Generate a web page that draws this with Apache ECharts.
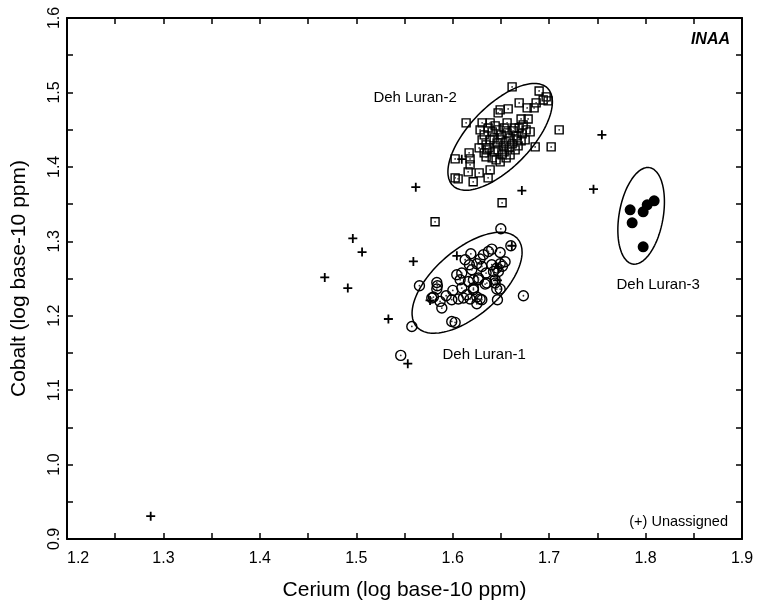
<!DOCTYPE html>
<html><head><meta charset="utf-8">
<script src="https://cdn.jsdelivr.net/npm/echarts@6/dist/echarts.min.js"></script>
<style>html,body{margin:0;padding:0;background:#fff}#c{width:757px;height:610px}</style>
</head><body><div id="c"></div>
<script>
// Cerium (x) vs Cobalt (y), log base-10 ppm
const dehLuran1 = [
[1.6499,1.3168],[1.6603,1.2940],[1.6492,1.2850],[1.6405,1.2895],[1.6370,1.2863],[1.6318,1.2819],
[1.6188,1.2832],[1.6129,1.2752],[1.6250,1.2698],[1.6302,1.2662],[1.6405,1.2685],[1.6492,1.2698],
[1.6474,1.2595],[1.6440,1.2483],[1.6457,1.2358],[1.6492,1.2358],[1.6354,1.2439],[1.6267,1.2483],
[1.6215,1.2483],[1.6163,1.2460],[1.6094,1.2573],[1.6094,1.2372],[1.6001,1.2340],[1.6059,1.2224],
[1.6111,1.2237],[1.6146,1.2282],[1.6215,1.2349],[1.6250,1.2251],[1.6284,1.2224],[1.6250,1.2161],
[1.6180,1.2224],[1.5990,1.2215],[1.5932,1.2268],[1.5869,1.2192],[1.5800,1.2251],[1.5783,1.2237],
[1.5887,1.2103],[1.5835,1.2447],[1.5841,1.2403],[1.5835,1.2358],[1.5655,1.2403],[1.5990,1.1923],
[1.6025,1.1910],[1.5576,1.1856],[1.5461,1.1467],[1.6733,1.2268],[1.6440,1.2439],[1.6464,1.2215],
[1.6198,1.2617],[1.6173,1.2685],[1.6284,1.2761],[1.6042,1.2550],[1.6346,1.2573],[1.6077,1.2483],
[1.6543,1.2725],[1.6516,1.2664],[1.6457,1.2640],[1.6423,1.2595],[1.6267,1.2506],[1.6336,1.2425],
[1.6215,1.2372],[1.6302,1.2215]
];
const dehLuran2 = [
[1.6616,1.5074],[1.6896,1.5020],[1.6969,1.4940],[1.6989,1.4886],[1.6938,1.4899],[1.6865,1.4859],
[1.6844,1.4792],[1.6772,1.4792],[1.6689,1.4859],[1.6575,1.4779],[1.6492,1.4765],[1.6471,1.4725],
[1.6139,1.4591],[1.6305,1.4591],[1.6388,1.4591],[1.6564,1.4591],[1.6709,1.4644],[1.6782,1.4644],
[1.6855,1.4268],[1.7104,1.4497],[1.7021,1.4268],[1.6025,1.4107],[1.6170,1.4188],[1.6180,1.4107],
[1.6180,1.4027],[1.6025,1.3852],[1.6056,1.3839],[1.6160,1.3933],[1.6212,1.3799],[1.6274,1.3919],
[1.6388,1.3960],[1.6367,1.3852],[1.6357,1.4228],[1.6346,1.4134],[1.6512,1.3517],[1.5817,1.3262],
[1.6284,1.4497],[1.6326,1.4430],[1.6367,1.4523],[1.6409,1.4470],[1.6440,1.4550],[1.6471,1.4497],
[1.6502,1.4430],[1.6533,1.4523],[1.6564,1.4456],[1.6595,1.4389],[1.6626,1.4483],[1.6658,1.4416],
[1.6689,1.4523],[1.6720,1.4443],[1.6751,1.4362],[1.6305,1.4362],[1.6346,1.4295],[1.6388,1.4362],
[1.6429,1.4389],[1.6460,1.4322],[1.6492,1.4362],[1.6523,1.4282],[1.6554,1.4336],[1.6585,1.4255],
[1.6616,1.4309],[1.6647,1.4228],[1.6678,1.4282],[1.6709,1.4349],[1.6377,1.4255],[1.6429,1.4201],
[1.6471,1.4228],[1.6512,1.4161],[1.6554,1.4121],[1.6450,1.4094],[1.6492,1.4067],[1.6533,1.4201],
[1.6274,1.4255],[1.6326,1.4188],[1.6409,1.4121],[1.6595,1.4161],[1.6637,1.4523],[1.6668,1.4362],
[1.6730,1.4564],[1.6761,1.4497],[1.6803,1.4470]
];
const dehLuran3 = [
[1.7840,1.3423],[1.8017,1.3490],[1.8089,1.3544],[1.7975,1.3396],[1.7861,1.3248],[1.7975,1.2926]
];
const unassigned = [
[1.5617,1.3727],[1.4964,1.3038],[1.5060,1.2855],[1.5592,1.2729],[1.4673,1.2514],[1.4912,1.2372],
[1.5333,1.1956],[1.5534,1.1356],[1.6043,1.2805],[1.7547,1.4430],[1.7460,1.3700],[1.6717,1.3682],
[1.2868,0.9306],[1.6474,1.2640],[1.5765,1.2205],[1.6464,1.2474],[1.6613,1.2940],[1.6094,1.4103]
];
// group ellipses: centre, major semi-axis vector, minor semi-axis vector (data units)
const ellipses = [
  {c:[1.6149,1.2443], u:[0.05245,0.0590], v:[0.02246,-0.03343]},
  {c:[1.6492,1.4403], u:[0.0490,0.06565], v:[0.02313,-0.02891]},
  {c:[1.7954,1.3342], u:[0.00883,0.06477], v:[0.02248,-0.00513]}
];
const groupLabels = [
  ['Deh Luran-2',1.5610,1.4926],
  ['Deh Luran-1',1.6326,1.1476],
  ['Deh Luran-3',1.8131,1.2416]
];
const xTicks = [1.2,1.3,1.4,1.5,1.6,1.7,1.8,1.9];
const yTicks = [0.9,1.0,1.1,1.2,1.3,1.4,1.5,1.6];

const FONT = '"Liberation Sans", Arial, Helvetica, sans-serif';
function ellipsePts(e){
  const pts=[];
  for(let i=0;i<=120;i++){
    const t=i/120*2*Math.PI;
    pts.push([e.c[0]+e.u[0]*Math.cos(t)+e.v[0]*Math.sin(t), e.c[1]+e.u[1]*Math.cos(t)+e.v[1]*Math.sin(t)]);
  }
  return pts;
}
const plus='path://M4,0H6V4H10V6H6V10H4V6H0V4H4Z';
const axisCommon = {
  axisLine:{show:true,onZero:false,lineStyle:{color:'#000',width:2}},
  axisTick:{show:true,inside:true,length:6,lineStyle:{color:'#000',width:1.5}},
  minorTick:{show:true,splitNumber:2,length:6,lineStyle:{color:'#000',width:1.5}},
  splitLine:{show:false}
};
const chart = echarts.init(document.getElementById('c'),null,{renderer:'canvas'});
const series = [];
ellipses.forEach(e=>series.push({type:'line',data:ellipsePts(e),showSymbol:false,symbol:'none',silent:true,
  lineStyle:{color:'#000',width:1.5},z:1}));
series.push({type:'scatter',data:dehLuran2,symbol:'rect',symbolSize:8,
  itemStyle:{color:'rgba(255,255,255,0)',borderColor:'#000',borderWidth:1.4,opacity:1},z:3});
series.push({type:'scatter',data:dehLuran1,symbol:'circle',symbolSize:10,
  itemStyle:{color:'rgba(255,255,255,0)',borderColor:'#000',borderWidth:1.4,opacity:1},z:3});
series.push({type:'scatter',data:dehLuran1.concat(dehLuran2),symbol:'circle',symbolSize:1.8,
  itemStyle:{color:'#333',opacity:1},z:3,silent:true});
series.push({type:'scatter',data:dehLuran3,symbol:'circle',symbolSize:11,itemStyle:{color:'#000',opacity:1},z:3});
series.push({type:'scatter',data:unassigned,symbol:plus,symbolSize:9,itemStyle:{color:'#000',opacity:1},z:4});
series.push({type:'scatter',data:groupLabels.map(l=>({value:[l[1],l[2]],name:l[0]})),symbolSize:0,silent:true,
  itemStyle:{opacity:1},
  label:{show:true,position:'inside',formatter:p=>p.name,fontFamily:FONT,fontSize:15,color:'#000'},z:5});

chart.setOption({
  animation:false,
  backgroundColor:'#fff',
  grid:{left:67,right:15,top:18,bottom:71},
  title:[
    {text:'INAA',right:22,top:27,textStyle:{fontFamily:FONT,fontSize:16,fontWeight:'bold',fontStyle:'italic',color:'#000'}},
    {text:'(+) Unassigned',right:24,top:509,textStyle:{fontFamily:FONT,fontSize:14.5,fontWeight:'normal',color:'#000'}}
  ],
  xAxis:[
    Object.assign({type:'value',min:1.2,max:1.9,interval:0.1,position:'bottom',
      name:'Cerium (log base-10 ppm)',nameLocation:'middle',nameGap:41,
      nameTextStyle:{fontFamily:FONT,fontSize:21,color:'#000'},
      axisLabel:{fontFamily:FONT,fontSize:16,color:'#000',margin:12,alignMinLabel:'left',
        formatter:v=>{const t=xTicks.find(k=>Math.abs(k-v)<1e-6);return t===undefined?'':t.toFixed(1);}}},axisCommon),
    Object.assign({type:'value',min:1.2,max:1.9,interval:0.1,position:'top',axisLabel:{show:false}},axisCommon)
  ],
  yAxis:[
    Object.assign({type:'value',min:0.9,max:1.6,interval:0.1,position:'left',
      name:'Cobalt (log base-10 ppm)',nameLocation:'middle',nameGap:37,
      nameTextStyle:{fontFamily:FONT,fontSize:21,color:'#000'},
      axisLabel:{fontFamily:FONT,fontSize:16,color:'#000',rotate:90,margin:4,
        formatter:v=>{const t=yTicks.find(k=>Math.abs(k-v)<1e-6);return t===undefined?'':t.toFixed(1);}}},axisCommon),
    Object.assign({type:'value',min:0.9,max:1.6,interval:0.1,position:'right',axisLabel:{show:false}},axisCommon)
  ],
  series:series
});
</script></body></html>
